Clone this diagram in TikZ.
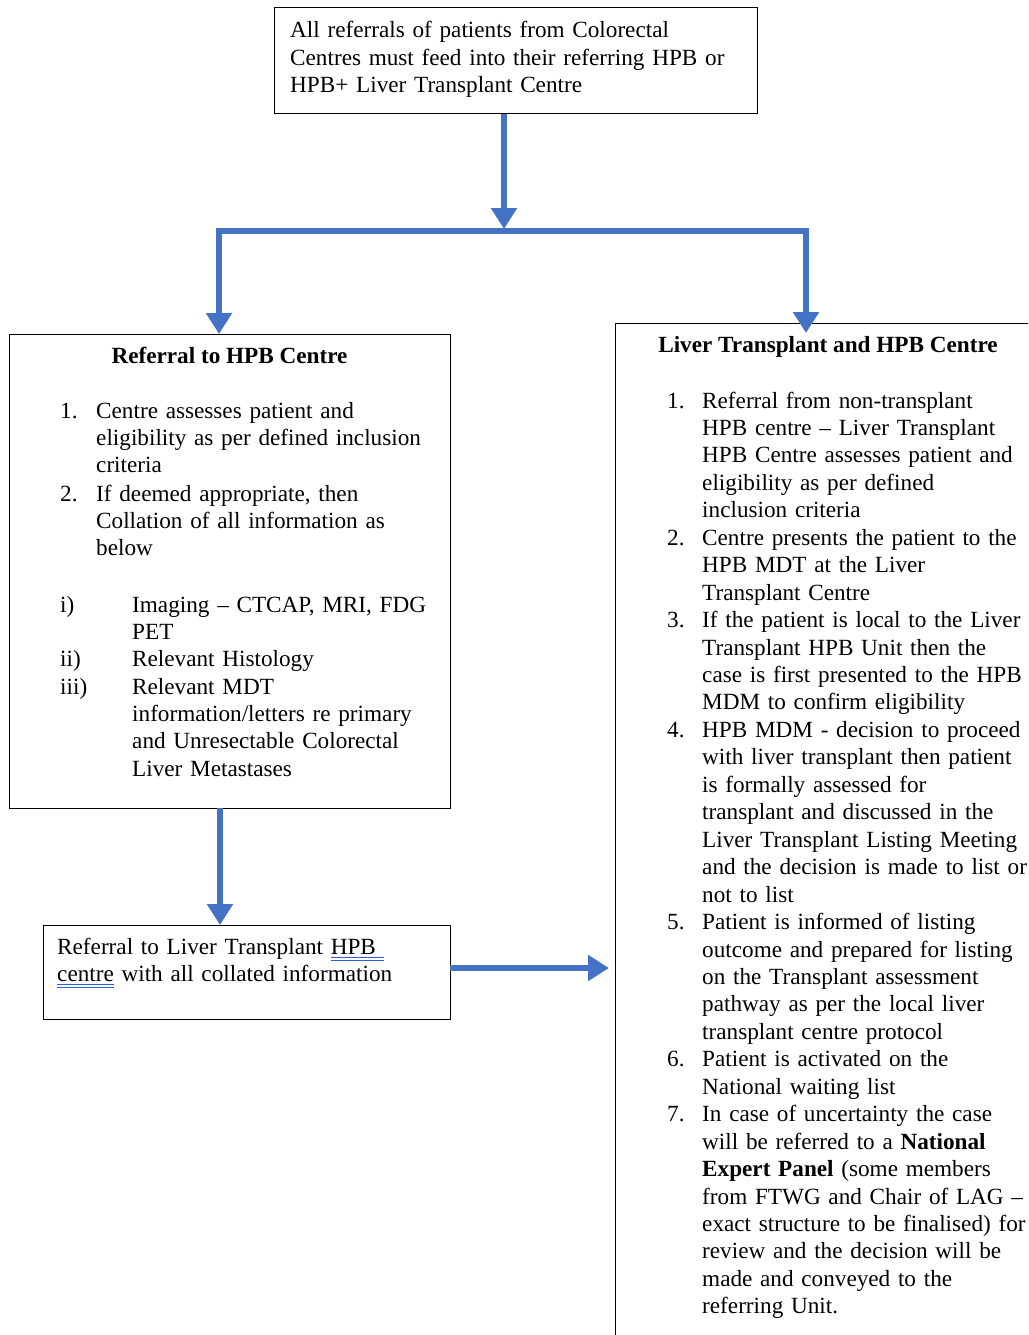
\documentclass[tikz,border=0pt]{standalone}
\usepackage{fontspec}
\setmainfont{Liberation Serif}
\usetikzlibrary{arrows.meta}
\definecolor{flowblue}{RGB}{68,114,196}
\definecolor{spellblue}{RGB}{50,95,215}
\newsavebox\myulbox
\newcommand\dblu[1]{\leavevmode\sbox\myulbox{#1}\rlap{\color{spellblue}\rule[-4pt]{\wd\myulbox}{1.3pt}}\rlap{\color{spellblue}\rule[-7pt]{\wd\myulbox}{1.3pt}}\usebox\myulbox}
\begin{document}
\begin{tikzpicture}[x=1pt,y=-1pt,
  box/.style={draw=black, line width=1.2pt, inner sep=0pt, anchor=north west},
  txt/.style={inner sep=0pt, anchor=base west, align=left, text width=#1,
    font=\fontsize{23.2}{27.45}\selectfont},
  txt/.default=500pt,
  lbl/.style={inner sep=0pt, anchor=base west, font=\fontsize{23.2}{27.45}\selectfont},
  ttl/.style={inner sep=0pt, anchor=base, font=\fontsize{23.2}{27.45}\selectfont\bfseries},
  flow/.style={draw=flowblue, line width=6pt},
  arr/.style={flow, -{Triangle[width=25pt,length=21pt]}}]
\clip (0,0) rectangle (1028,1335);
\fill[white] (0,0) rectangle (1028,1335);

% boxes
\node[box, minimum width=483pt, minimum height=106pt] (top) at (274,7) {};
\node[box, minimum width=441pt, minimum height=474pt] (lbox) at (9,334) {};
\node[box, minimum width=407pt, minimum height=94pt] (sbox) at (43,925) {};
\node[box, minimum width=450pt, minimum height=1040pt] (rbox) at (615,323) {};

% top box text
\node[txt] (toptext) at (290,38) {All referrals of patients from Colorectal\\Centres must feed into their referring HPB or\\HPB+ Liver Transplant Centre};

% left box
\node[ttl] (ltitle) at (229.5,363) {Referral to HPB Centre};
\node[lbl] (l1n) at (60,418) {1.};
\node[txt] (l1) at (96,418) {Centre assesses patient and\\eligibility as per defined inclusion\\criteria};
\node[lbl] (l2n) at (60,501) {2.};
\node[txt] (l2) at (96,501) {If deemed appropriate, then\\Collation of all information as\\below};
\node[lbl] (lin) at (60,612) {i)};
\node[txt] (li) at (132,612) {Imaging – CTCAP, MRI, FDG\\PET};
\node[lbl] (liin) at (60,666) {ii)};
\node[txt] (lii) at (132,666) {Relevant Histology};
\node[lbl] (liiin) at (60,694) {iii)};
\node[txt] (liii) at (132,694) {Relevant MDT\\information/letters re primary\\and Unresectable Colorectal\\Liver Metastases};

% small box
\node[txt] (stext) at (57,954) {Referral to Liver Transplant \dblu{HPB\ }\\\dblu{centre} with all collated information};

% right box
\node[ttl] (rtitle) at (828,352) {Liver Transplant and HPB Centre};
\node[lbl] (r1n) at (667,408) {1.};
\node[txt] (r1) at (702,408) {Referral from non-transplant\\HPB centre – Liver Transplant\\HPB Centre assesses patient and\\eligibility as per defined\\inclusion criteria};
\node[lbl] (r2n) at (667,545.3) {2.};
\node[txt] (r2) at (702,545.3) {Centre presents the patient to the\\HPB MDT at the Liver\\Transplant Centre};
\node[lbl] (r3n) at (667,627.6) {3.};
\node[txt] (r3) at (702,627.6) {If the patient is local to the Liver\\Transplant HPB Unit then the\\case is first presented to the HPB\\MDM to confirm eligibility};
\node[lbl] (r4n) at (667,737.4) {4.};
\node[txt] (r4) at (702,737.4) {HPB MDM - decision to proceed\\with liver transplant then patient\\is formally assessed for\\transplant and discussed in the\\Liver Transplant Listing Meeting\\and the decision is made to list or\\not to list};
\node[lbl] (r5n) at (667,929.6) {5.};
\node[txt] (r5) at (702,929.6) {Patient is informed of listing\\outcome and prepared for listing\\on the Transplant assessment\\pathway as per the local liver\\transplant centre protocol};
\node[lbl] (r6n) at (667,1066.8) {6.};
\node[txt] (r6) at (702,1066.8) {Patient is activated on the\\National waiting list};
\node[lbl] (r7n) at (667,1121.7) {7.};
\node[txt] (r7) at (702,1121.7) {In case of uncertainty the case\\will be referred to a \textbf{National}\\\textbf{Expert Panel} (some members\\from FTWG and Chair of LAG –\\exact structure to be finalised) for\\review and the decision will be\\made and conveyed to the\\referring Unit.};

% connectors
\coordinate (tjoin) at (504,229);
\coordinate (jl) at (219,231);
\coordinate (jr) at (806,231);
\coordinate (rtip) at (806,333);
\coordinate (lb) at (220,808);
\coordinate (ra) at (450,968);
\coordinate (ratip) at (609,968);
\draw[arr] (top.south -| tjoin) -- (tjoin);
\draw[arr, line join=miter] (jr) -- (jl) -- (jl |- lbox.north);
\draw[arr, line join=miter] (jl) -- (jr) -- (rtip);
\draw[arr] (lb) -- (lb |- sbox.north);
\draw[arr] (ra) -- (ratip);
\end{tikzpicture}
\end{document}
